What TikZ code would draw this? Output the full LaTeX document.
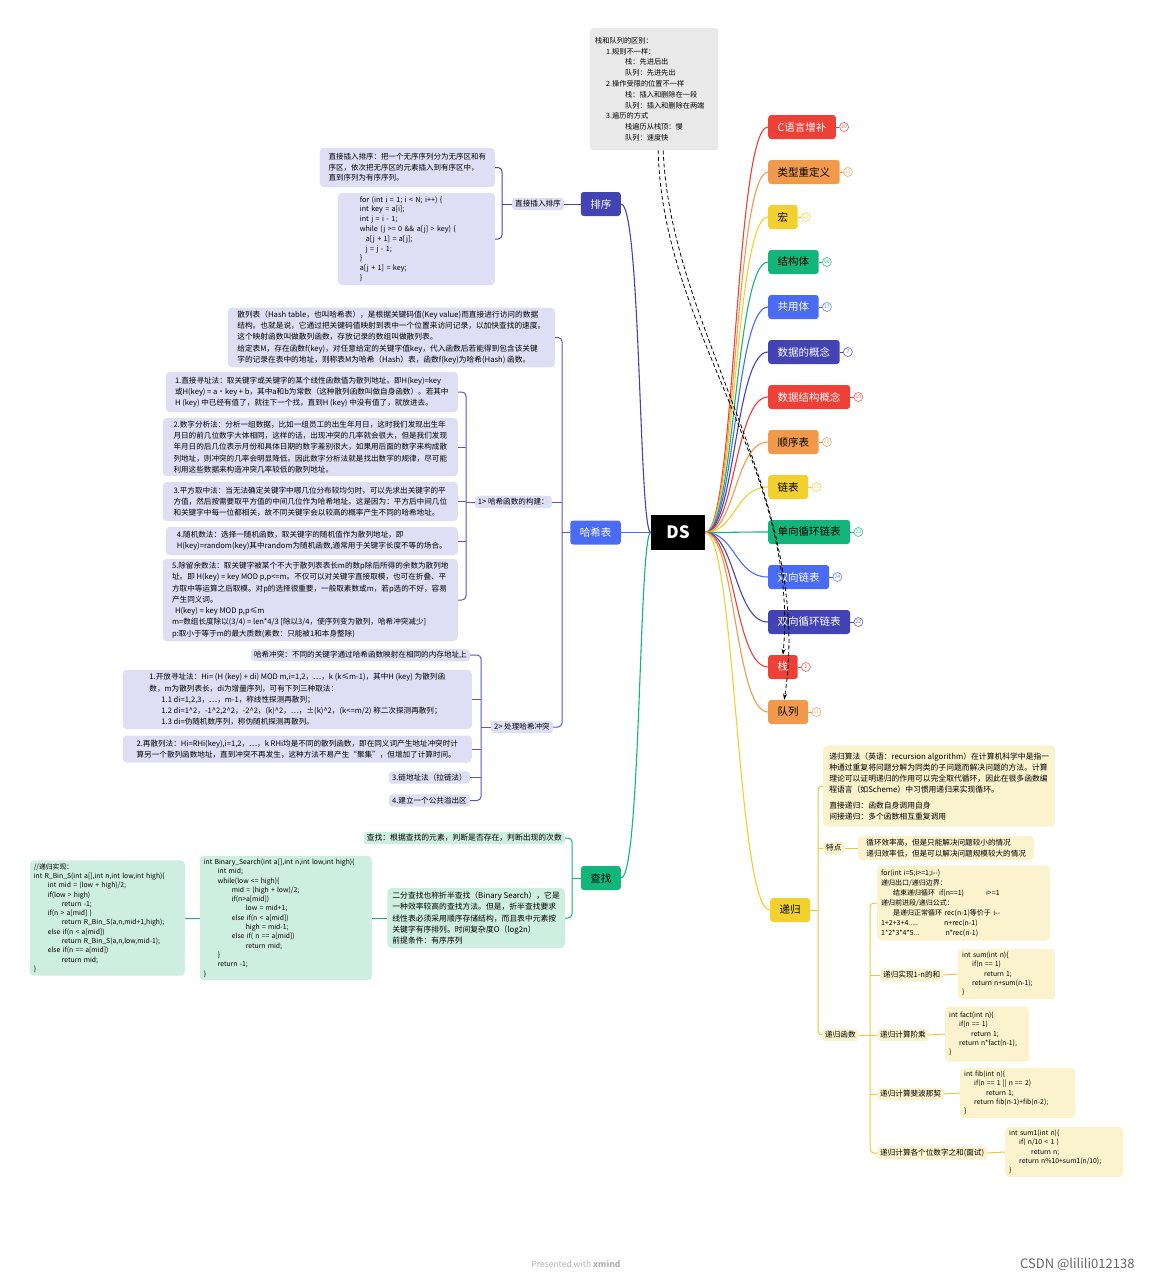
\documentclass[tikz,border=0pt]{standalone}
\usepackage{fontspec}
\setmainfont{Noto Sans CJK SC}
\usetikzlibrary{arrows.meta,calc}
\definecolor{cRed}{HTML}{EE4036}
\definecolor{cOrange}{HTML}{F29A4C}
\definecolor{cYellow}{HTML}{F2D12E}
\definecolor{cGreen}{HTML}{14B57A}
\definecolor{cBlue}{HTML}{4A6BF4}
\definecolor{cIndigo}{HTML}{4343B3}
\definecolor{lavFill}{HTML}{DEDFF5}
\definecolor{grnFill}{HTML}{CDEEE0}
\definecolor{ylwFill}{HTML}{FAF3CD}
\definecolor{noteFill}{HTML}{E9E9E9}
\definecolor{hashLine}{HTML}{5558C4}
\definecolor{recLine}{HTML}{EBC93A}
\begin{document}
\begin{tikzpicture}[x=1pt,y=-1pt,
  ln/.style={line width=1.1pt},
  sl/.style={line width=1pt,rounded corners=4pt},
  topic/.style={rounded corners=3pt,minimum height=24pt,inner xsep=9.5pt,inner ysep=0pt,font=\fontsize{10.5}{12}\selectfont},
  tbox/.style={rounded corners=4pt,inner xsep=5pt,inner ysep=3pt,align=left},
  cbox/.style={rounded corners=4pt,inner xsep=4pt,inner ysep=3pt,align=left,font=\fontsize{6.8}{9.3}\selectfont},
  hfont/.style={font=\fontsize{7.6}{11.3}\selectfont},
  lbl/.style={rounded corners=3pt,inner xsep=3pt,inner ysep=2.5pt,font=\fontsize{7.6}{9}\selectfont},
  badge/.style={circle,draw,line width=0.6pt,inner sep=0pt,minimum size=9pt,font=\fontsize{5}{5}\selectfont},
]
\fill[white] (0,0) rectangle (1153,1280);
\useasboundingbox (0,0) rectangle (1153,1280);

% centre
\node[fill=black,text=white,minimum width=54pt,minimum height=35pt,font=\fontsize{17}{20}\selectfont\bfseries] (ds) at (678,532.5) {DS};

% right branches
\foreach \ii/\yy/\txt/\col/\tcol/\bnum in {
  1/127/C语言增补/cRed/white/20,
  2/172/类型重定义/cOrange/black/12,
  3/217/宏/cYellow/black/21,
  4/262/结构体/cGreen/black/00,
  5/307/共用体/cBlue/white/17,
  6/352/数据的概念/cIndigo/white/7,
  7/397/数据结构概念/cRed/white/19,
  8/442/顺序表/cOrange/black/22,
  9/487/链表/cYellow/black/12,
  10/532/单向循环链表/cGreen/black/23,
  11/577/双向链表/cBlue/white/24,
  12/622/双向循环链表/cIndigo/white/22,
  13/667/栈/cRed/white/2,
  14/712/队列/cOrange/black/11}
{
  \node[topic,fill=\col,text=\tcol,anchor=west] (b\ii) at (768,\yy) {\txt};
  \node[badge,draw=\col!85,text=\col!85] (bg\ii) at ([xshift=8pt]b\ii.east) {\bnum};
  \draw[\col,line width=0.6pt] (b\ii.east) -- (bg\ii.west);
  \draw[ln,\col] (ds.east) .. controls ($(ds.east)+(30,0)$) and ($(b\ii.west)+(-33,0)$) .. (b\ii.west);
}

% note
\node[tbox,fill=noteFill,anchor=north west,text width=118pt,minimum height=122pt,rounded corners=3pt,font=\fontsize{7.2}{10.8}\selectfont] (note) at (590,28) {栈和队列的区别：\\
\hspace*{11pt}1.规则不一样：\\
\hspace*{30pt}栈：先进后出\\
\hspace*{30pt}队列：先进先出\\
\hspace*{11pt}2.操作受限的位置不一样\\
\hspace*{30pt}栈：插入和删除在一段\\
\hspace*{30pt}队列：插入和删除在两端\\
\hspace*{11pt}3.遍历的方式\\
\hspace*{30pt}栈遍历从栈顶：慢\\
\hspace*{30pt}队列：速度快};

\draw[line width=0.8pt,dash pattern=on 4pt off 2.5pt,-{Stealth[length=6pt,width=4pt]}] ([xshift=4pt]note.south) .. controls (662,330) and (800,470) .. (b13.north);
\draw[line width=0.8pt,dash pattern=on 4pt off 2.5pt,-{Stealth[length=6pt,width=4pt]}] ([xshift=9pt]note.south) .. controls (670,330) and (815,500) .. ([xshift=-4pt]b14.north);

% ===== sort =====
\node[topic,fill=cIndigo,text=white,anchor=east] (sort) at (621,204) {排序};
\draw[ln,cIndigo] (ds.west) .. controls ($(ds.west)+(-12,0)$) and ($(sort.east)+(20,0)$) .. (sort.east);
\node[lbl,fill=lavFill,anchor=east] (sortL) at (564,204) {直接插入排序};
\node[tbox,fill=lavFill,anchor=east,minimum width=175pt,minimum height=39pt,font=\fontsize{7.5}{10.5}\selectfont] (sortT) at (495,167.5) {直接插入排序：把一个无序序列分为无序区和有\\序区，依次把无序区的元素插入到有序区中，\\直到序列为有序序列。};
\node[cbox,fill=lavFill,anchor=east,text width=149pt,minimum height=92pt,font=\fontsize{7.2}{9.8}\selectfont] (sortC) at (495,239) {\hspace*{18pt}for (int i = 1; i < N; i++) \{\\
\hspace*{18pt}int key = a[i];\\
\hspace*{18pt}int j = i - 1;\\
\hspace*{18pt}while (j >= 0 \&\& a[j] > key) \{\\
\hspace*{24pt}a[j + 1] = a[j];\\
\hspace*{24pt}j = j - 1;\\
\hspace*{18pt}\}\\
\hspace*{18pt}a[j + 1] = key;\\
\hspace*{18pt}\}};
\coordinate (sS) at (502,0);
\draw[sl,cIndigo] (sortT.east) -- (sortT.east -| sS) -- (sortC.east -| sS) -- (sortC.east);
\draw[sl,cIndigo] (sortL.west) -- (sortL.west -| sS);
\draw[sl,cIndigo] (sort.west) -- (sortL.east);

% ===== hash =====
\node[topic,fill=cBlue,text=white,anchor=east] (hash) at (621,532.5) {哈希表};
\draw[ln,cBlue] (ds.west) -- (hash.east);
\node[tbox,hfont,fill=lavFill,anchor=east,minimum width=327pt,minimum height=59pt,font=\fontsize{7.7}{11.3}\selectfont] (hdef) at (555,337.5) {散列表（Hash table，也叫哈希表），是根据关键码值(Key value)而直接进行访问的数据\\
结构。也就是说，它通过把关键码值映射到表中一个位置来访问记录，以加快查找的速度。\\
这个映射函数叫做散列函数，存放记录的数组叫做散列表。\\
给定表M，存在函数f(key)，对任意给定的关键字值key，代入函数后若能得到包含该关键\\
字的记录在表中的地址，则称表M为哈希（Hash）表，函数f(key)为哈希(Hash) 函数。};
\node[lbl,fill=lavFill,anchor=east] (hl1) at (552,502) {1> 哈希函数的构建：};
\node[lbl,fill=lavFill,anchor=east] (hl2) at (553,727) {2> 处理哈希冲突};
\coordinate (sH) at (562,0);
\draw[sl,hashLine] (hdef.east) -- (hdef.east -| sH) -- (hl2.east -| sH) -- (hl2.east);
\draw[sl,hashLine] (hl1.east) -- (hl1.east -| sH);
\draw[sl,hashLine] (hash.west) -- (hash.west -| sH);

\node[tbox,hfont,fill=lavFill,anchor=east,minimum width=292pt,minimum height=40pt] (h1) at (458,392) {1.直接寻址法：取关键字或关键字的某个线性函数值为散列地址。即H(key)=key\\
或H(key) = a·key + b，其中a和b为常数（这种散列函数叫做自身函数）。若其中\\
H (key) 中已经有值了，就往下一个找，直到H (key) 中没有值了，就放进去。};
\node[tbox,hfont,fill=lavFill,anchor=east,minimum width=295pt,minimum height=58pt] (h2) at (458,447) {2.数字分析法：分析一组数据，比如一组员工的出生年月日，这时我们发现出生年\\
月日的前几位数字大体相同，这样的话，出现冲突的几率就会很大，但是我们发现\\
年月日的后几位表示月份和具体日期的数字差别很大，如果用后面的数字来构成散\\
列地址，则冲突的几率会明显降低。因此数字分析法就是找出数字的规律，尽可能\\
利用这些数据来构造冲突几率较低的散列地址。};
\node[tbox,hfont,fill=lavFill,anchor=east,minimum width=295pt,minimum height=39pt] (h3) at (458,501.5) {3.平方取中法：当无法确定关键字中哪几位分布较均匀时，可以先求出关键字的平\\
方值，然后按需要取平方值的中间几位作为哈希地址。这是因为：平方后中间几位\\
和关键字中每一位都相关，故不同关键字会以较高的概率产生不同的哈希地址。};
\node[tbox,hfont,fill=lavFill,anchor=east,minimum width=292pt,minimum height=28pt] (h4) at (458,541) {4.随机数法：选择一随机函数，取关键字的随机值作为散列地址，即\\
H(key)=random(key)其中random为随机函数,通常用于关键字长度不等的场合。};
\node[tbox,hfont,fill=lavFill,anchor=east,minimum width=295pt,minimum height=80pt] (h5) at (458,600) {5.除留余数法：取关键字被某个不大于散列表表长m的数p除后所得的余数为散列地\\
址。即 H(key) = key MOD p,p<=m。不仅可以对关键字直接取模，也可在折叠、平\\
方取中等运算之后取模。对p的选择很重要，一般取素数或m，若p选的不好，容易\\
产生同义词。\\
\hspace*{3pt}H(key) = key MOD p,p≤m\\
m=数组长度除以(3/4) = len*4/3 [除以3/4，使序列变为散列，哈希冲突减少]\\
p:取小于等于m的最大质数(素数：只能被1和本身整除)};
\coordinate (sH1) at (466,0);
\draw[sl,hashLine] (h1.east) -- (h1.east -| sH1) -- (h5.east -| sH1) -- (h5.east);
\draw[sl,hashLine] (h2.east) -- (h2.east -| sH1);
\draw[sl,hashLine] (h3.east) -- (h3.east -| sH1);
\draw[sl,hashLine] (h4.east) -- (h4.east -| sH1);
\draw[sl,hashLine] (hl1.west) -- (hl1.west -| sH1);

\node[lbl,fill=lavFill,anchor=east] (k0) at (470,655) {哈希冲突：不同的关键字通过哈希函数映射在相同的内存地址上};
\node[tbox,hfont,fill=lavFill,anchor=east,minimum width=349pt,minimum height=59pt] (k1) at (472,699.5) {1.开放寻址法：Hi= (H (key) + di) MOD m,i=1,2，…，k (k≤m-1)，其中H (key) 为散列函\\
数，m为散列表长，di为增量序列，可有下列三种取法：\\
\hspace*{12pt}1.1 di=1,2,3，…，m-1，称线性探测再散列；\\
\hspace*{12pt}1.2 di=1\textasciicircum2，-1\textasciicircum2,2\textasciicircum2，-2\textasciicircum2，(k)\textasciicircum2，…，±(k)\textasciicircum2，(k<=m/2) 称二次探测再散列；\\
\hspace*{12pt}1.3 di=伪随机数序列，称伪随机探测再散列。};
\node[tbox,hfont,fill=lavFill,anchor=east,minimum width=349pt,minimum height=27pt] (k2) at (472,749) {2.再散列法：Hi=RHi(key),i=1,2，…，k RHi均是不同的散列函数，即在同义词产生地址冲突时计\\
算另一个散列函数地址，直到冲突不再发生，这种方法不易产生“聚集”，但增加了计算时间。};
\node[lbl,fill=lavFill,anchor=east] (k3) at (470,777.5) {3.链地址法（拉链法）};
\node[lbl,fill=lavFill,anchor=east] (k4) at (470,800.5) {4.建立一个公共溢出区};
\coordinate (sH2) at (481,0);
\draw[sl,hashLine] (k0.east) -- (k0.east -| sH2) -- (k4.east -| sH2) -- (k4.east);
\draw[sl,hashLine] (k1.east) -- (k1.east -| sH2);
\draw[sl,hashLine] (k2.east) -- (k2.east -| sH2);
\draw[sl,hashLine] (k3.east) -- (k3.east -| sH2);
\draw[sl,hashLine] (hl2.west) -- (hl2.west -| sH2);

% ===== search =====
\node[topic,fill=cGreen,text=black,anchor=east] (find) at (621,878) {查找};
\draw[ln,cGreen] (ds.west) .. controls ($(ds.west)+(-12,0)$) and ($(find.east)+(20,0)$) .. (find.east);
\node[lbl,fill=grnFill,anchor=east,font=\fontsize{7.8}{9}\selectfont] (q0) at (565,838) {查找：根据查找的元素，判断是否存在，判断出现的次数};
\node[tbox,fill=grnFill,anchor=east,minimum width=177pt,minimum height=60pt,font=\fontsize{7.8}{11.2}\selectfont] (q1) at (565,918) {二分查找也称折半查找（Binary Search），它是\\
一种效率较高的查找方法。但是，折半查找要求\\
线性表必须采用顺序存储结构，而且表中元素按\\
关键字有序排列。时间复杂度O（log2n）\\
前提条件：有序序列};
\coordinate (sF) at (572,0);
\draw[sl,cGreen] (q0.east) -- (q0.east -| sF) -- (q1.east -| sF) -- (q1.east);
\draw[sl,cGreen] (find.west) -- (find.west -| sF);
\node[cbox,fill=grnFill,anchor=east,text width=164pt,minimum height=122pt] (q2) at (372,918) {int Binary\_Search(int a[],int n,int low,int high)\{\\
\hspace*{14pt}int mid;\\
\hspace*{14pt}while(low <= high)\{\\
\hspace*{28pt}mid = (high + low)/2;\\
\hspace*{28pt}if(n>a[mid])\\
\hspace*{42pt}low = mid+1;\\
\hspace*{28pt}else if(n < a[mid])\\
\hspace*{42pt}high = mid-1;\\
\hspace*{28pt}else if( n == a[mid])\\
\hspace*{42pt}return mid;\\
\hspace*{14pt}\}\\
\hspace*{14pt}return -1;\\
\}};
\node[cbox,fill=grnFill,anchor=east,text width=147pt,minimum height=112pt] (q3) at (185,918) {//递归实现：\\
int R\_Bin\_S(int a[],int n,int low,int high)\{\\
\hspace*{14pt}int mid = (low + high)/2;\\
\hspace*{14pt}if(low > high)\\
\hspace*{28pt}return -1;\\
\hspace*{14pt}if(n > a[mid] )\\
\hspace*{28pt}return R\_Bin\_S(a,n,mid+1,high);\\
\hspace*{14pt}else if(n < a[mid])\\
\hspace*{28pt}return R\_Bin\_S(a,n,low,mid-1);\\
\hspace*{14pt}else if(n == a[mid])\\
\hspace*{28pt}return mid;\\
\}};
\draw[sl,cGreen] (q1.west) -- (q2.east);
\draw[sl,cGreen] (q2.west) -- (q3.east);

% ===== recursion =====
\node[topic,fill=cYellow,text=black,anchor=west] (rec) at (770,910) {递归};
\draw[ln,cYellow] (ds.east) .. controls ($(ds.east)+(30,0)$) and ($(rec.west)+(-33,0)$) .. (rec.west);
\node[tbox,fill=ylwFill,anchor=west,minimum width=232pt,minimum height=81pt,font=\fontsize{7.8}{11}\selectfont] (r0) at (823,786) {递归算法（英语：recursion algorithm）在计算机科学中是指一\\
种通过重复将问题分解为同类的子问题而解决问题的方法。计算\\
理论可以证明递归的作用可以完全取代循环，因此在很多函数编\\
程语言（如Scheme）中习惯用递归来实现循环。\\[5pt]
直接递归：函数自身调用自身\\
间接递归：多个函数相互重复调用};
\node[lbl,fill=ylwFill,anchor=west] (r1) at (823,848) {特点};
\node[tbox,fill=ylwFill,anchor=west,minimum width=176pt,minimum height=24pt,font=\fontsize{7.6}{10.5}\selectfont] (r1b) at (858,848) {循环效率高，但是只能解决问题较小的情况\\
递归效率低，但是可以解决问题规模较大的情况};
\node[lbl,fill=ylwFill,anchor=west] (r2) at (822,1035) {递归函数};
\coordinate (sR) at (818,0);
\draw[sl,recLine] (r0.west) -- (r0.west -| sR) -- (r2.west -| sR) -- (r2.west);
\draw[sl,recLine] (r1.west) -- (r1.west -| sR);
\draw[sl,recLine] (rec.east) -- (rec.east -| sR);
\draw[sl,recLine] (r1.east) -- (r1b.west);

\node[cbox,fill=ylwFill,anchor=west,text width=165pt,minimum height=75pt,font=\fontsize{7}{10}\selectfont] (f0) at (877,903) {for(int i=5;i>=1;i-{}-)\\
递归出口/递归边界：\\
\hspace*{12pt}结束递归循环\hspace{4pt}if(n==1)\hspace{22pt}i>=1\\
递归前进段/递归公式：\\
\hspace*{12pt}是递归正常循环 rec(n-1)等价于 i-{}-\\
1+2+3+4.....\hspace{26pt}n+rec(n-1)\\
1*2*3*4*5...\hspace{26pt}n*rec(n-1)};
\node[lbl,fill=ylwFill,anchor=west] (f1) at (880,975) {递归实现1-n的和};
\node[lbl,fill=ylwFill,anchor=west] (f2) at (877,1035) {递归计算阶乘};
\node[lbl,fill=ylwFill,anchor=west] (f3) at (877,1094) {递归计算斐波那契};
\node[lbl,fill=ylwFill,anchor=west] (f4) at (877,1153) {递归计算各个位数字之和(面试)};
\coordinate (sR2) at (870,0);
\draw[sl,recLine] (f0.west) -- (f0.west -| sR2) -- (f4.west -| sR2) -- (f4.west);
\draw[sl,recLine] (f1.west) -- (f1.west -| sR2);
\draw[sl,recLine] (f3.west) -- (f3.west -| sR2);
\draw[sl,recLine] (r2.east) -- (f2.west);

\node[cbox,fill=ylwFill,anchor=west,text width=89pt,minimum height=50pt] (g1) at (958,974) {int sum(int n)\{\\
\hspace*{10pt}if(n == 1)\\
\hspace*{22pt}return 1;\\
\hspace*{10pt}return n+sum(n-1);\\
\}};
\node[cbox,fill=ylwFill,anchor=west,text width=76pt,minimum height=55pt] (g2) at (945,1034) {int fact(int n)\{\\
\hspace*{10pt}if(n == 1)\\
\hspace*{22pt}return 1;\\
\hspace*{10pt}return n*fact(n-1);\\
\}};
\node[cbox,fill=ylwFill,anchor=west,text width=107pt,minimum height=50pt] (g3) at (960,1093) {int fib(int n)\{\\
\hspace*{10pt}if(n == 1 || n == 2)\\
\hspace*{22pt}return 1;\\
\hspace*{10pt}return fib(n-1)+fib(n-2);\\
\}};
\node[cbox,fill=ylwFill,anchor=west,text width=110pt,minimum height=50pt] (g4) at (1005,1152) {int sum1(int n)\{\\
\hspace*{10pt}if( n/10 < 1 )\\
\hspace*{22pt}return n;\\
\hspace*{10pt}return n\%10+sum1(n/10);\\
\}};
\draw[sl,recLine] (f1.east) -- (g1.west);
\draw[sl,recLine] (f2.east) -- (g2.west);
\draw[sl,recLine] (f3.east) -- (g3.west);
\draw[sl,recLine] (f4.east) -- (g4.west);

% footer
\node[text=black!30,font=\fontsize{8.5}{10}\selectfont] (ft1) at (576,1264) {Presented with \textbf{xmind}};
\node[text=black!60,font=\fontsize{13}{15}\selectfont,anchor=east] (ft2) at (1138,1264) {CSDN @lilili012138};
\end{tikzpicture}
\end{document}
